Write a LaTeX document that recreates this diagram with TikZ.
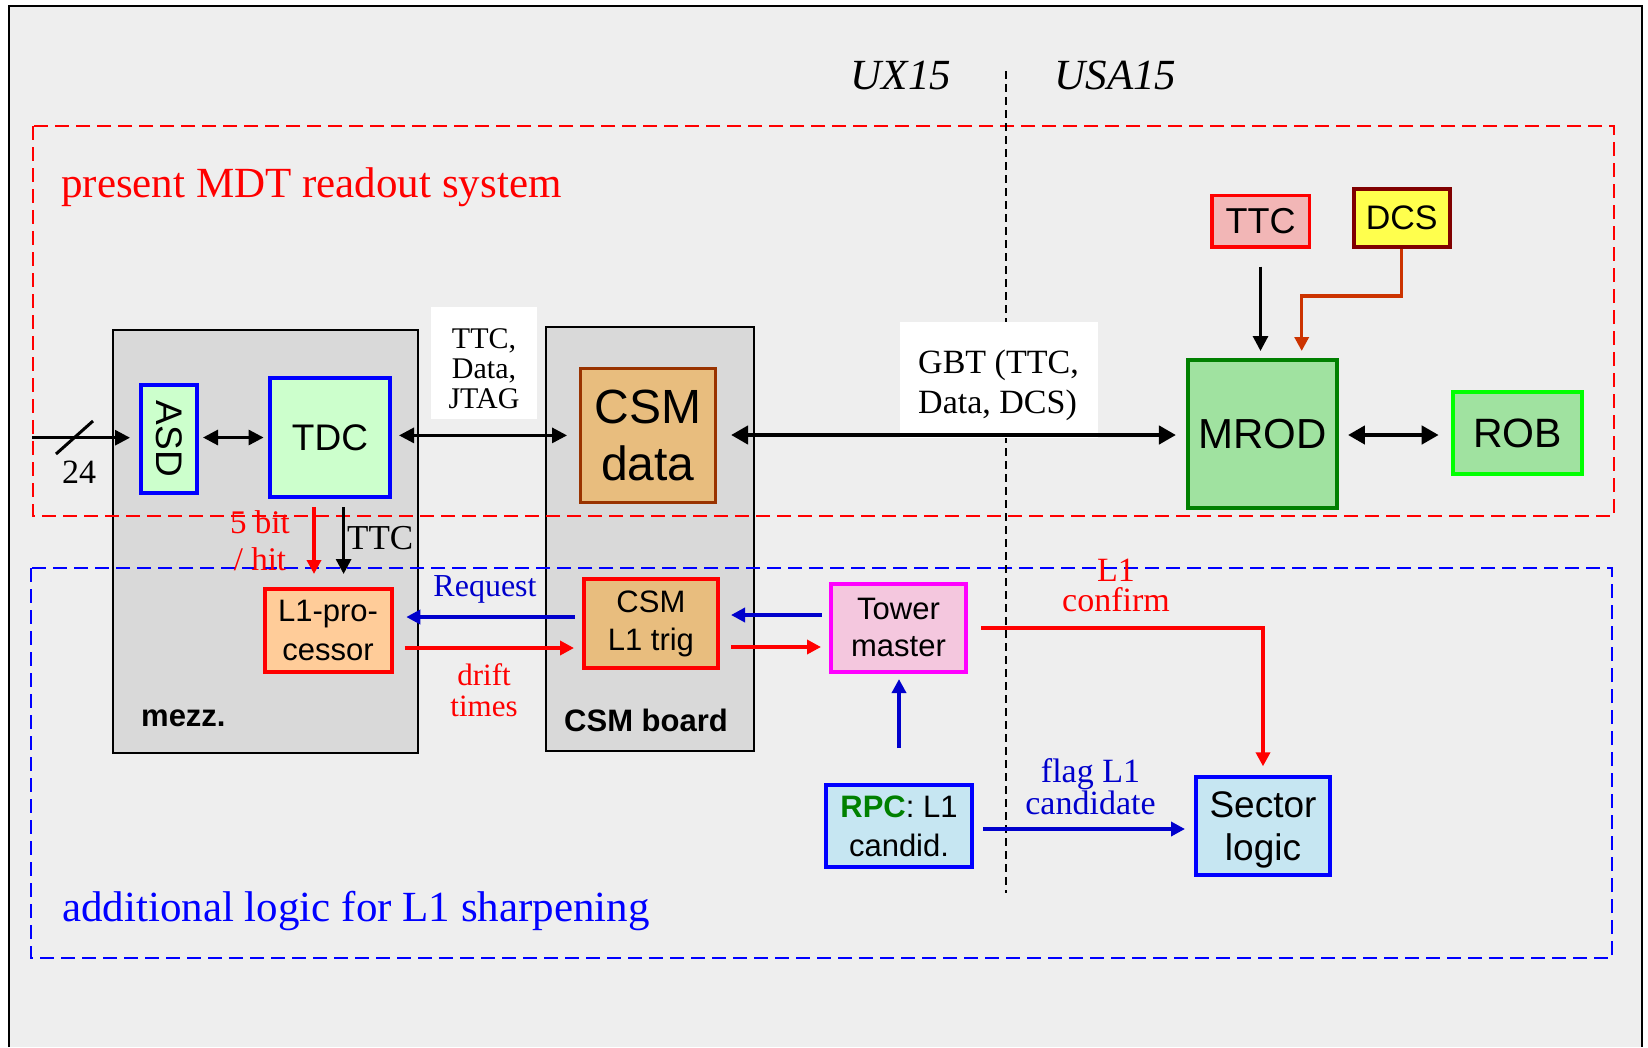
\documentclass[tikz,border=0pt]{standalone}
\usepackage{fontspec}
\setmainfont{Liberation Serif}
\setsansfont{Liberation Sans}
\usetikzlibrary{arrows.meta}
\newcommand\fsz[2]{\fontsize{#1pt}{#2pt}\selectfont}
\definecolor{bggray}{RGB}{238,238,238}
\definecolor{boxgray}{RGB}{217,217,217}
\definecolor{lgreen}{RGB}{204,255,204}
\definecolor{lorange}{RGB}{255,204,153}
\definecolor{tan}{RGB}{232,189,126}
\definecolor{brownb}{RGB}{153,51,0}
\definecolor{lpink}{RGB}{244,199,222}
\definecolor{lblue}{RGB}{198,230,242}
\definecolor{ttcfill}{RGB}{242,182,182}
\definecolor{dcsfill}{RGB}{255,255,77}
\definecolor{dcsb}{RGB}{128,0,0}
\definecolor{mgreen}{RGB}{160,226,160}
\definecolor{dgreen}{RGB}{0,128,0}
\definecolor{dblue}{RGB}{0,0,204}
\definecolor{dorange}{RGB}{204,51,0}
\definecolor{magb}{RGB}{255,0,255}
\definecolor{brightgreen}{RGB}{0,255,0}
\begin{document}
\begin{tikzpicture}[x=1pt,y=-1pt,
  blk/.style={draw, line width=4pt, inner sep=0pt, align=center, font=\sffamily},
  grayblk/.style={draw=black, line width=2pt, fill=boxgray, inner sep=0pt},
  lbl/.style={inner sep=0pt, align=center},
  arr/.style={-{Triangle[length=15pt,width=15pt]}, line width=3pt},
  darr/.style={{Triangle[length=15pt,width=15pt]}-{Triangle[length=15pt,width=15pt]}, line width=3pt},
  bigdarr/.style={{Triangle[length=17pt,width=18pt]}-{Triangle[length=17pt,width=18pt]}, line width=4.5pt},
  rarr/.style={-{Triangle[length=14pt,width=14pt]}, line width=3.5pt, draw=red},
  barr/.style={-{Triangle[length=14pt,width=14pt]}, line width=3.5pt, draw=dblue},
  oarr/.style={-{Triangle[length=14pt,width=14pt]}, line width=3.5pt, draw=dorange},
  frame/.style={line width=2.5pt, dash pattern=on 14pt off 7pt}
]
\useasboundingbox (0,0) rectangle (1648,1047);
\fill[white] (0,0) rectangle (1648,1047);
\fill[bggray] (9,6) rectangle (1642,1047);
\draw[line width=2.5pt] (9,1047) -- (9,6) -- (1642,6) -- (1642,1047);

% gray boards
\node[grayblk, minimum width=304.6pt, minimum height=423pt] (mezz) at (265.3,541.5) {};
\node[grayblk, minimum width=207.6pt, minimum height=424.3pt] (csmb) at (650.2,538.9) {};
\node[anchor=base west, inner sep=0pt, font=\sffamily\bfseries\fsz{31}{36}] (mezzl) at (141,726) {mezz.};
\node[anchor=base west, inner sep=0pt, font=\sffamily\bfseries\fsz{31}{36}] (csmbl) at (564,731.7) {CSM board};

% dashed regions
\draw[frame, red] (33,126) rectangle (1614,516);
\draw[frame, blue] (31,568) rectangle (1612,958);
\draw[line width=2pt, dash pattern=on 8pt off 5pt] (1006,71) -- (1006,893);

% titles
\node[anchor=base west, inner sep=0pt, text=red, font=\fsz{43}{48}] (t1) at (61,197) {present MDT readout system};
\node[anchor=base west, inner sep=0pt, text=blue, font=\fsz{43}{48}] (t2) at (62,921) {additional logic for L1 sharpening};
\node[anchor=base, inner sep=0pt, font=\itshape\fsz{43}{48}] (ux) at (901,89.3) {UX15};
\node[anchor=base, inner sep=0pt, font=\itshape\fsz{43}{48}] (usa) at (1115.5,89.3) {USA15};

% white label boxes
\node[fill=white, minimum width=106pt, minimum height=112pt, inner sep=0pt] (lb1) at (484,363) {};
\node[lbl, font=\fsz{30}{30}] (l1) at (484,369) {TTC,\\Data,\\JTAG};
\node[fill=white, minimum width=198pt, minimum height=116pt, inner sep=0pt] (lb2) at (999,380) {};
\node[lbl, align=left, font=\fsz{34}{40}] (l2) at (998.5,385.5) {GBT (TTC,\\Data, DCS)};

% blocks
\node[blk, draw=blue, fill=lgreen, minimum width=56.4pt, minimum height=108.3pt] (asd) at (168.8,438.9) {};
\node[rotate=-90, inner sep=0pt, font=\sffamily\fsz{37}{40}] (asdt) at (asd) {ASD};
\node[blk, draw=blue, fill=lgreen, minimum width=120pt, minimum height=119pt, font=\sffamily\fsz{37}{40}] (tdc) at (330,437.5) {TDC};
\node[blk, draw=red, fill=lorange, minimum width=127pt, minimum height=83pt, font=\sffamily\fsz{31}{39}] (l1p) at (328,630.5) {L1-pro-\\cessor};
\node[blk, line width=3.5pt, draw=brownb, fill=tan, minimum width=134.8pt, minimum height=133.8pt, font=\sffamily\fsz{48}{57.7}] (csmd) at (647.9,435.4) {CSM\\data};
\node[blk, draw=red, fill=tan, minimum width=134.2pt, minimum height=89pt, font=\sffamily\fsz{31}{38}] (csmt) at (650.9,623.5) {CSM\\L1 trig};
\node[blk, draw=magb, fill=lpink, minimum width=135pt, minimum height=88.5pt, font=\sffamily\fsz{31}{37}] (tower) at (898.5,627.8) {Tower\\master};
\node[blk, draw=blue, fill=lblue, minimum width=146pt, minimum height=82.3pt, font=\sffamily\fsz{31}{39}] (rpc) at (899,825.9) {{\bfseries\color{dgreen}RPC}: L1\\candid.};
\node[blk, draw=blue, fill=lblue, minimum width=134pt, minimum height=98pt, font=\sffamily\fsz{37}{43}] (sector) at (1263,826) {};
\node[lbl, font=\sffamily\fsz{37}{43}] (sectort) at (1263,829.5) {Sector\\logic};
\node[blk, line width=3.5pt, draw=red, fill=ttcfill, minimum width=97.5pt, minimum height=51.2pt, font=\sffamily\fsz{36}{40}] (ttcb) at (1260.5,221.3) {TTC};
\node[blk, draw=dcsb, fill=dcsfill, minimum width=96pt, minimum height=58pt, font=\sffamily\fsz{34}{40}] (dcs) at (1401.7,218) {DCS};
\node[blk, draw=dgreen, fill=mgreen, minimum width=148.7pt, minimum height=148pt, font=\sffamily\fsz{42}{46}] (mrod) at (1262.3,434) {MROD};
\node[blk, draw=brightgreen, fill=mgreen, minimum width=129pt, minimum height=82pt, font=\sffamily\fsz{41}{46}] (rob) at (1517.5,433) {ROB};

% input
\coordinate (in) at (32,437.7);
\draw[arr, shorten >=8.6pt] (in) -- (in -| asd.west);
\coordinate (sl1) at (56,454);
\coordinate (sl2) at (93,421);
\draw[line width=3pt] (sl1) -- (sl2);
\node[anchor=base, inner sep=0pt, font=\fsz{34}{36}] (n24) at (79,483) {24};

% mezz arrows
\draw[darr, shorten <=4pt, shorten >=4.4pt] (asd.east |- tdc.west) -- (tdc.west);
\draw[darr, shorten <=7pt, shorten >=11.7pt] (tdc.east |- csmd.west) -- (csmd.west);
\draw[rarr, shorten <=8pt, shorten >=13pt] (tdc.south -| 314,0) -- (l1p.north -| 314,0);
\draw[arr, line width=3pt, shorten <=8pt, shorten >=13pt] (tdc.south -| 343.6,0) -- (l1p.north -| 343.6,0);
\node[lbl, text=red, font=\fsz{33}{37}] (l5bit) at (260,540.5) {5 bit\\/ hit};
\node[anchor=base west, inner sep=0pt, font=\fsz{35}{38}] (lttc) at (347,549) {TTC};

% trigger arrows
\draw[barr, shorten <=7pt, shorten >=12.8pt] (csmt.west |- 0,617) -- (l1p.east |- 0,617);
\draw[rarr, shorten <=11.4pt, shorten >=7.8pt] (l1p.east |- 0,648) -- (csmt.west |- 0,648);
\node[anchor=base, inner sep=0pt, text=dblue, font=\fsz{32}{36}] (lreq) at (485,596) {Request};
\node[lbl, text=red, font=\fsz{31}{31}] (ldrift) at (484,690) {drift\\times};
\draw[barr, shorten <=7.3pt, shorten >=11pt] (tower.west |- 0,615) -- (csmt.east |- 0,615);
\draw[rarr, shorten <=11pt, shorten >=8pt] (csmt.east |- 0,647) -- (tower.west |- 0,647);
\draw[barr, shorten <=34.7pt, shorten >=5pt] (rpc.north) -- (rpc.north |- tower.south);
\draw[rarr, shorten <=13pt, shorten >=8.7pt] (tower.east |- 0,628) -| (sector.north);
\node[lbl, text=red, font=\fsz{34}{30}] (lconf) at (1116,585.5) {L1\\confirm};
\draw[barr, shorten <=9pt, shorten >=9pt] (rpc.east |- 0,829) -- (sector.west |- 0,829);
\node[lbl, text=dblue, font=\fsz{34}{30}] (lflag) at (1090.5,786.5) {flag L1\\candidate};

% readout arrows
\draw[bigdarr, shorten <=14pt, shorten >=10pt] (csmd.east |- 0,435) -- (mrod.west |- 0,435);
\draw[bigdarr, shorten <=9.3pt, shorten >=12.3pt] (mrod.east |- 0,435) -- (rob.west |- 0,435);
\draw[arr, line width=3pt, shorten <=18pt, shorten >=7pt] (ttcb.south) -- (ttcb.south |- mrod.north);
\draw[oarr, shorten >=7pt] (dcs.south) -- (dcs.south |- 0,296) -| ([xshift=39.4pt]mrod.north);
\end{tikzpicture}
\end{document}
